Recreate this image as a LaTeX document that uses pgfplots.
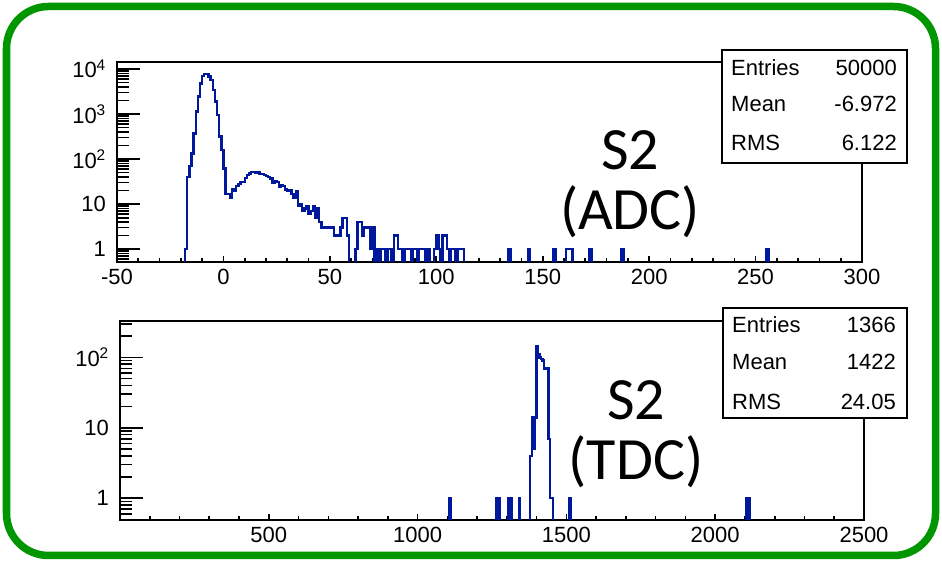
\documentclass[border=0pt]{standalone}
\usepackage{pgfplots}
\pgfplotsset{compat=1.18}
\usepackage{fontspec}
\setmainfont{Liberation Sans}
\newfontfamily\calibri{Carlito}
\definecolor{histblue}{RGB}{0,24,155}
\definecolor{frgreen}{RGB}{0,150,0}
\pgfplotsset{
  rootstyle/.style={
    scale only axis,
    axis line style={line width=1.8bp},
    tick align=inside, xtick pos=bottom, ytick pos=left,
    tick style={black, line width=1.6bp},
    major x tick style={/pgfplots/major tick length=6bp},
    minor x tick style={/pgfplots/minor tick length=3.5bp},
    major y tick style={/pgfplots/major tick length=23bp},
    minor y tick style={/pgfplots/minor tick length=12bp},
    tick label style={font=\fontsize{22bp}{26bp}\selectfont},
    xticklabel style={inner ysep=0pt, yshift=-7bp},
    yticklabel style={inner xsep=0pt, xshift=-11bp},
  },
  histline/.style={histblue, line width=2.4bp, const plot, no marks},
}
\begin{document}
\begin{tikzpicture}[x=1bp,y=1bp]
\fill[white] (0,0) rectangle (942,562);
\draw[frgreen, line width=7.5bp, rounded corners=42bp] (6.5,6.5) rectangle (935.5,555.5);

\begin{axis}[ymode=log, rootstyle, at={(117bp,300bp)}, anchor=south west,
  width=745bp, height=200bp,
  xmin=-50, xmax=300, ymin=0.52, ymax=14300,
  xtick={-50,0,...,300}, xticklabels={-50,0,50,100,150,200,250,300},
  minor xtick={-40,-30,...,290},
  ytick={1,10,100,1000,10000},
  yticklabels={1,10,10\textsuperscript{2},10\textsuperscript{3},10\textsuperscript{4}},
  minor ytick={0.6,0.7,0.8,0.9,2,3,4,5,6,7,8,9,20,30,40,50,60,70,80,90,200,300,400,500,600,700,800,900,2000,3000,4000,5000,6000,7000,8000,9000},
]
\addplot[histline] coordinates {
(-50,0.1) (-18,1) (-17,40) (-16,70) (-15,134) (-14,370) (-13,1130) (-12,2440)
(-11,4800) (-10,6900) (-9,7700) (-8,7700) (-7,6800) (-6,5700) (-5,3400) (-4,1880)
(-3,950) (-2,315) (-1,158) (0,62) (1,17) (2,17) (3,14) (4,21) (5,20) (6,25) (7,28)
(8,31) (9,31) (10,38) (11,44) (12,48) (13,52) (14,52) (15,50) (16,50) (17,46) (18,46)
(19,44) (20,42) (21,40) (22,37) (23,30) (24,33) (25,31) (26,24) (27,26) (28,25)
(29,21) (30,20) (31,20) (32,17) (33,14) (34,19) (35,9) (36,10) (37,7) (38,8) (39,9)
(40,6) (41,7) (42,9) (43,5) (44,8) (45,4) (46,3) (52,2) (55,3) (56,5) (58,2) (59,0.1)
(62,1) (63,4) (65,2) (66,3) (69,1) (70,3) (71,0.1)
(72,1) (73,0.1) (74,1) (76,0.1) (77,1) (79,0.1) (80,2) (82,1) (84,0.1) (85,1) (88,0.1)
(89,1) (91,0.1) (92,1) (95,0.1) (96,1) (97,0.1) (99,1) (100,2) (101,1) (102,0.1)
(103,2) (105,1) (106,0.1) (107,1) (109,0.1) (110,1) (113,0.1)
(134,1) (135,0.1) (143,1) (144,0.1) (155,1) (156,0.1) (161,1) (164,0.1) (172,1) (173,0.1)
(187,1) (188,0.1) (255,1) (256,0.1) (300,0.1)
};
\end{axis}

\begin{axis}[ymode=log, rootstyle, at={(120bp,42bp)}, anchor=south west,
  width=744bp, height=199bp,
  xmin=0, xmax=2500, ymin=0.49, ymax=330,
  xtick={500,1000,...,2500}, xticklabels={500,1000,1500,2000,2500},
  minor xtick={100,200,...,2400},
  ytick={1,10,100},
  yticklabels={1,10,10\textsuperscript{2}},
  minor ytick={0.5,0.6,0.7,0.8,0.9,2,3,4,5,6,7,8,9,20,30,40,50,60,70,80,90,200,300},
]
\addplot[histline] coordinates {
(0,0.1) (1105,1) (1110,0.1) (1265,1) (1275,0.1) (1305,1) (1315,0.1) (1340,1) (1345,0.1)
(1377.5,4) (1385,14) (1387.5,5) (1390,14) (1392.5,5) (1395,14) (1400,145) (1405,110)
(1410,100) (1415,95) (1420,90) (1425,70) (1430,70) (1435,70) (1440,7) (1445,1)
(1455,0.1) (1510,1) (1515,0.1) (2105,1) (2115,0.1) (2500,0.1)
};
\end{axis}

% stats boxes
\begin{scope}[every node/.style={inner sep=0pt, font=\fontsize{22bp}{26bp}\selectfont}]
\draw[line width=1.8bp, fill=white] (721.7,399.3) rectangle (906.7,512);
\node[anchor=base west] at (731,486) {Entries};
\node[anchor=base east] at (897,486) {50000};
\node[anchor=base west] at (731,450) {Mean};
\node[anchor=base east] at (897,450) {-6.972};
\node[anchor=base west] at (731,411) {RMS};
\node[anchor=base east] at (897,411) {6.122};

\draw[line width=1.8bp, fill=white] (722.7,144) rectangle (906.7,253.7);
\node[anchor=base west] at (732,229.4) {Entries};
\node[anchor=base east] at (896,229.4) {1366};
\node[anchor=base west] at (732,192) {Mean};
\node[anchor=base east] at (896,192) {1422};
\node[anchor=base west] at (732,152.5) {RMS};
\node[anchor=base east] at (896,152.5) {24.05};
\end{scope}

\begin{scope}[every node/.style={inner sep=0pt, anchor=base, font=\calibri\fontsize{60bp}{60bp}\selectfont}]
\node at (630,392) {S2};
\node at (630,332) {(ADC)};
\node at (636,142) {S2};
\node at (636,82) {(TDC)};
\end{scope}
\end{tikzpicture}
\end{document}
